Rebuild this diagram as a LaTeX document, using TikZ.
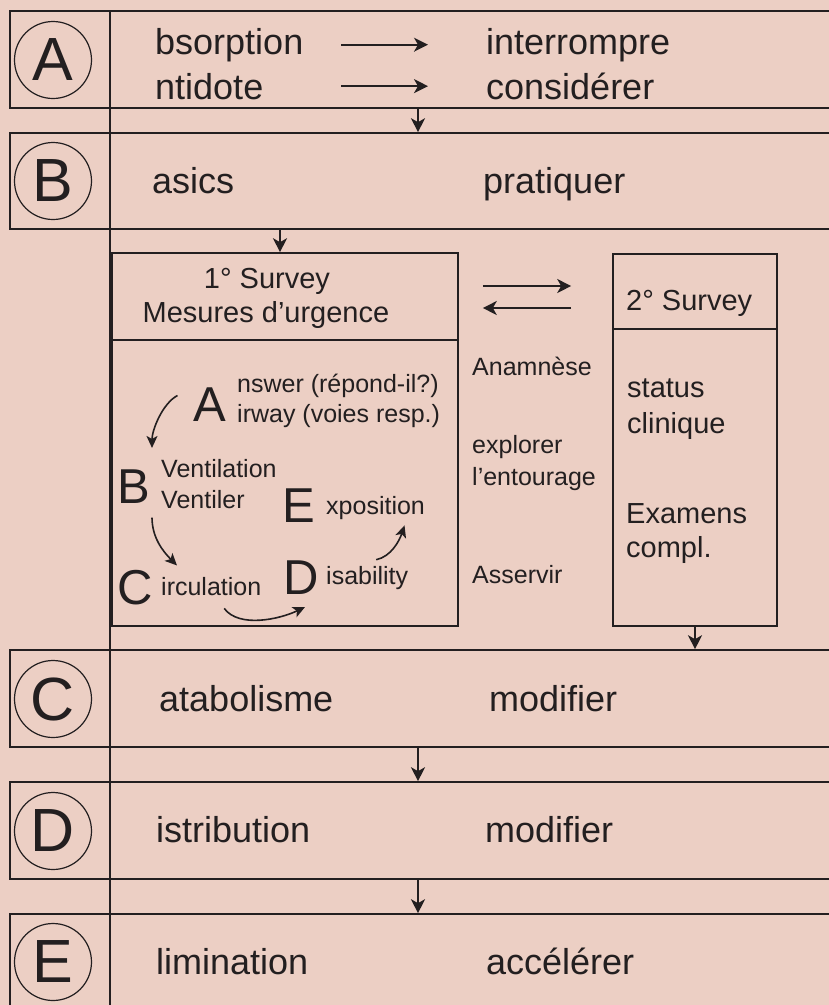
\documentclass[tikz,border=0pt]{standalone}
\usepackage{fontspec}
\setmainfont{Liberation Sans}
\usetikzlibrary{arrows.meta}
\definecolor{paper}{RGB}{236,207,196}
\definecolor{ink}{RGB}{35,31,32}

\begin{document}
\begin{tikzpicture}[x=1pt, y=-1pt,
  band/.style={rectangle, draw=ink, line width=1.6pt, minimum width=830pt, inner sep=0pt},
  letter/.style={circle, draw=ink, line width=1.2pt, minimum size=77pt, inner sep=0pt, text=ink, font=\fontsize{61}{61}\selectfont},
  big/.style={inner sep=0pt, text=ink, font=\fontsize{36}{40}\selectfont},
  mid/.style={inner sep=0pt, text=ink, font=\fontsize{29}{33}\selectfont},
  small/.style={inner sep=0pt, text=ink, font=\fontsize{25}{29}\selectfont},
  capletter/.style={inner sep=0pt, text=ink, font=\fontsize{49}{49}\selectfont},
  box/.style={rectangle, draw=ink, line width=1.6pt, inner sep=0pt},
  rule/.style={draw=ink, line width=1.6pt},
  arr/.style={-{Stealth[length=14pt, width=14pt, inset=4pt]}, draw=ink, line width=1.8pt},
  arrs/.style={-{Stealth[length=12pt, width=11pt, inset=3pt]}, draw=ink, line width=1.6pt}]
			\useasboundingbox (0,0) rectangle (829,1005);
			\fill[paper] (0,0) rectangle (829,1005);
			\clip (0,0) rectangle (829,1005);
			% Bands
			\node[band, minimum height=97pt] (bandA) at (425,59.5) {};
			\node[band, minimum height=96pt] (bandB) at (425,181) {};
			\node[band, minimum height=97pt] (bandC) at (425,698.5) {};
			\node[band, minimum height=97pt] (bandD) at (425,830.5) {};
			\node[band, minimum height=100pt] (bandE) at (425,964) {};
			\coordinate (divtop) at (110,11);
			\coordinate (divbot) at (110,1010);
			\draw[rule] (divtop) -- (divbot);
			% Letters
			\node[letter] (cA) at (53,60) {A};
			\node[letter] (cB) at (53,181) {B};
			\node[letter] (cC) at (53,699) {C};
			\node[letter] (cD) at (53,831) {D};
			\node[letter] (cE) at (53,962) {E};
			% Band texts
			\node[big, anchor=base west] (absorb) at (155,54) {bsorption};
			\node[big, anchor=base west] (antid) at (155,99) {ntidote};
			\node[big, anchor=base west] (interr) at (486,54) {interrompre};
			\node[big, anchor=base west] (consid) at (486,99) {considérer};
			\node[big, anchor=base west] (basics) at (152,193) {asics};
			\node[big, anchor=base west] (prat) at (483,193) {pratiquer};
			\node[big, anchor=base west] (catab) at (159,711) {atabolisme};
			\node[big, anchor=base west] (modC) at (489,711) {modifier};
			\node[big, anchor=base west] (distr) at (156,842) {istribution};
			\node[big, anchor=base west] (modD) at (485,842) {modifier};
			\node[big, anchor=base west] (elim) at (156,974) {limination};
			\node[big, anchor=base west] (accel) at (486,974) {accélérer};
			% Surveys
			\node[box, minimum width=346pt, minimum height=87pt] (s1head) at (285,296.5) {};
			\node[box, minimum width=346pt, minimum height=286pt] (s1body) at (285,483) {};
			\node[box, minimum width=164pt, minimum height=75pt] (s2head) at (695,291.5) {};
			\node[box, minimum width=164pt, minimum height=297pt] (s2body) at (695,477.5) {};
			\node[mid, anchor=base] (t1a) at (267,288) {1° Survey};
			\node[mid, anchor=base] (t1b) at (266,322) {Mesures d’urgence};
			\node[mid, anchor=base west] (t2) at (626,310) {2° Survey};
			\node[mid, anchor=base west] (stat1) at (627,397) {status};
			\node[mid, anchor=base west] (stat2) at (627,433) {clinique};
			\node[mid, anchor=base west] (exam1) at (626,523) {Examens};
			\node[mid, anchor=base west] (exam2) at (626,557) {compl.};
			\node[small, anchor=base west] (anam) at (472,375) {Anamnèse};
			\node[small, anchor=base west] (expl1) at (472,453) {explorer};
			\node[small, anchor=base west] (expl2) at (472,485) {l’entourage};
			\node[small, anchor=base west] (asserv) at (472,583) {Asservir};
			% ABCDE
			\node[capletter] (lA) at (210,404.5) {A};
			\node[capletter] (lB) at (134,487) {B};
			\node[capletter] (lC) at (135,588) {C};
			\node[capletter] (lD) at (301,578) {D};
			\node[capletter] (lE) at (299,506) {E};
			\node[small, anchor=base west] (answ) at (237,392) {nswer (répond-il?)};
			\node[small, anchor=base west] (airw) at (237,422) {irway (voies resp.)};
			\node[small, anchor=base west] (vent1) at (161,477) {Ventilation};
			\node[small, anchor=base west] (vent2) at (161,508) {Ventiler};
			\node[small, anchor=base west] (expo) at (326,514) {xposition};
			\node[small, anchor=base west] (disab) at (326,584) {isability};
			\node[small, anchor=base west] (circ) at (161,595) {irculation};
			% Edges
			\coordinate (colAB) at (418,0);
			\coordinate (colB) at (280,0);
			\coordinate (yfwd) at (0,286);
			\coordinate (ybck) at (0,308);
			\draw[arr, shorten <=38pt, shorten >=58pt] (absorb.east) -- (absorb.east -| interr.west);
			\draw[arr, shorten <=78pt, shorten >=58pt] (antid.east) -- (antid.east -| consid.west);
			\draw[arr] (bandA.south -| colAB) -- (bandB.north -| colAB);
			\draw[arr] (bandB.south -| colB) -- (s1head.north -| colB);
			\draw[arr, shorten <=24pt, shorten >=41pt] (s1head.east |- yfwd) -- (s2head.west |- yfwd);
			\draw[arr, shorten <=41pt, shorten >=24pt] (s2head.west |- ybck) -- (s1head.east |- ybck);
			\draw[arr] (s2body.south) -- (bandC.north -| s2body.south);
			\draw[arr] (bandC.south -| colAB) -- (bandD.north -| colAB);
			\draw[arr] (bandD.south -| colAB) -- (bandE.north -| colAB);
			\draw[arrs] ([shift={(-16,-9)}]lA.west) .. controls +(-15,8) and +(0,-18) .. ([shift={(18,-22)}]lB.north);
			\draw[arrs] ([shift={(18,13.5)}]lB.south) .. controls +(0,20) and +(-14,-14) .. ([shift={(42,-5)}]lC.north);
			\draw[arrs] ([shift={(13,13)}]circ.south) .. controls +(15,20) and +(-25,12) .. ([shift={(4,12)}]lD.south);
			\draw[arrs] ([shift={(9,-6)}]disab.north) .. controls +(15,-3) and +(-5,15) .. ([shift={(29,6)}]expo.south);
		\end{tikzpicture}
\end{document}
